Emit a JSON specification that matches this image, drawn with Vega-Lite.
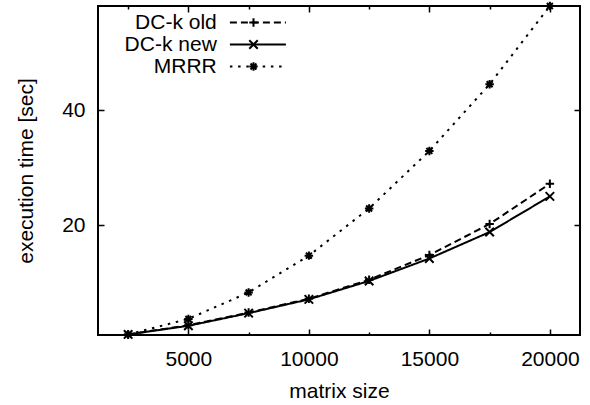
{
  "$schema": "https://vega.github.io/schema/vega-lite/v6.json",
  "width": 482,
  "height": 329,
  "autosize": "none",
  "padding": {"left": 98, "top": 6, "right": 10, "bottom": 70},
  "config": {
    "font": "Liberation Sans",
    "view": {"stroke": "black", "strokeWidth": 2},
    "axis": {
      "grid": false,
      "domain": false,
      "labelFont": "Liberation Sans",
      "labelFontSize": 21,
      "labelColor": "black",
      "titleFont": "Liberation Sans",
      "titleFontSize": 21,
      "titleFontWeight": "normal",
      "titleColor": "black",
      "tickColor": "black",
      "tickWidth": 1.5,
      "labelFlush": false,
      "labelOverlap": false
    },
    "legend": {
      "labelFont": "Liberation Sans",
      "labelFontSize": 21,
      "labelColor": "black"
    }
  },
  "data": {
    "values": [
      {"series": "DC-k old", "n": 2500, "t": 1.0},
      {"series": "DC-k old", "n": 5000, "t": 2.6},
      {"series": "DC-k old", "n": 7500, "t": 4.8},
      {"series": "DC-k old", "n": 10000, "t": 7.2},
      {"series": "DC-k old", "n": 12500, "t": 10.5},
      {"series": "DC-k old", "n": 15000, "t": 14.8},
      {"series": "DC-k old", "n": 17500, "t": 20.2},
      {"series": "DC-k old", "n": 20000, "t": 27.2},
      {"series": "DC-k new", "n": 2500, "t": 1.0},
      {"series": "DC-k new", "n": 5000, "t": 2.5},
      {"series": "DC-k new", "n": 7500, "t": 4.7},
      {"series": "DC-k new", "n": 10000, "t": 7.1},
      {"series": "DC-k new", "n": 12500, "t": 10.3},
      {"series": "DC-k new", "n": 15000, "t": 14.2},
      {"series": "DC-k new", "n": 17500, "t": 18.8},
      {"series": "DC-k new", "n": 20000, "t": 25.0},
      {"series": "MRRR", "n": 2500, "t": 1.0},
      {"series": "MRRR", "n": 5000, "t": 3.7},
      {"series": "MRRR", "n": 7500, "t": 8.3},
      {"series": "MRRR", "n": 10000, "t": 14.7},
      {"series": "MRRR", "n": 12500, "t": 22.9},
      {"series": "MRRR", "n": 15000, "t": 32.9},
      {"series": "MRRR", "n": 17500, "t": 44.5},
      {"series": "MRRR", "n": 20000, "t": 58.1}
    ]
  },
  "layer": [
    {
      "mark": {"type": "line", "color": "black", "strokeWidth": 2, "clip": false},
      "encoding": {
        "x": {
          "field": "n", "type": "quantitative",
          "scale": {"domain": [1250, 21250], "nice": false, "zero": false},
          "axis": {
            "orient": "bottom",
            "values": [2500, 5000, 7500, 10000, 12500, 15000, 17500, 20000],
            "format": "d",
            "labelExpr": "datum.value % 5000 === 0 ? datum.label : ''",
            "tickSize": -6,
            "tickDash": {"condition": {"test": "datum.value % 5000 !== 0", "value": [3, 10]}, "value": [1, 0]},
            "labelPadding": 36,
            "labelBaseline": "alphabetic",
            "title": "matrix size",
            "titleY": 62,
            "titleBaseline": "alphabetic"
          }
        },
        "y": {
          "field": "t", "type": "quantitative",
          "scale": {"domain": [0.9, 58.1], "nice": false, "zero": false},
          "axis": {
            "orient": "left",
            "values": [20, 40],
            "tickSize": -6,
            "labelPadding": 19,
            "title": "execution time [sec]",
            "titleX": -66,
            "titleY": 164.5,
            "titleAngle": -90,
            "titleAlign": "center",
            "titleBaseline": "alphabetic"
          }
        },
        "detail": {"field": "series"},
        "strokeDash": {
          "field": "series", "type": "nominal",
          "scale": {"domain": ["DC-k old", "DC-k new", "MRRR"], "range": [[7, 4], [1, 0], [2.5, 5.7]]},
          "legend": {
            "title": null,
            "orient": "none",
            "legendX": 149.4,
            "legendY": 6,
            "padding": 0,
            "rowPadding": 0,
            "symbolType": "M-5,0L5,0",
            "symbolSize": 125.44,
            "symbolStrokeWidth": 2,
            "symbolStrokeColor": "black",
            "labelAlign": "right",
            "labelOffset": -51.6
          }
        }
      }
    },
    {
      "mark": {"type": "point", "filled": false, "color": "black", "strokeWidth": 2, "size": 72, "opacity": 1, "clip": false},
      "encoding": {
        "x": {
          "field": "n", "type": "quantitative",
          "axis": {
            "orient": "top",
            "values": [2500, 5000, 7500, 10000, 12500, 15000, 17500, 20000],
            "labels": false,
            "tickSize": -6,
            "tickDash": {"condition": {"test": "datum.value % 5000 !== 0", "value": [3, 10]}, "value": [1, 0]},
            "title": null
          }
        },
        "y": {
          "field": "t", "type": "quantitative",
          "axis": {
            "orient": "right",
            "values": [20, 40],
            "labels": false,
            "tickSize": -6,
            "title": null
          }
        },
        "shape": {
          "field": "series", "type": "nominal",
          "sort": null,
          "scale": {"range": [
            "M-1,0L1,0M0,-1L0,1",
            "M-1,-1L1,1M-1,1L1,-1",
            "M-1,0L1,0M0,-1L0,1M-0.7,-0.7L0.7,0.7M-0.7,0.7L0.7,-0.7"
          ]},
          "legend": {
            "title": null,
            "orient": "none",
            "legendX": 145,
            "legendY": 6,
            "padding": 0,
            "rowPadding": 0,
            "symbolSize": 72,
            "symbolStrokeWidth": 2,
            "symbolStrokeColor": "black",
            "symbolFillColor": "transparent",
            "labelOpacity": 0
          }
        }
      }
    }
  ],
  "resolve": {"axis": {"x": "independent", "y": "independent"}}
}
